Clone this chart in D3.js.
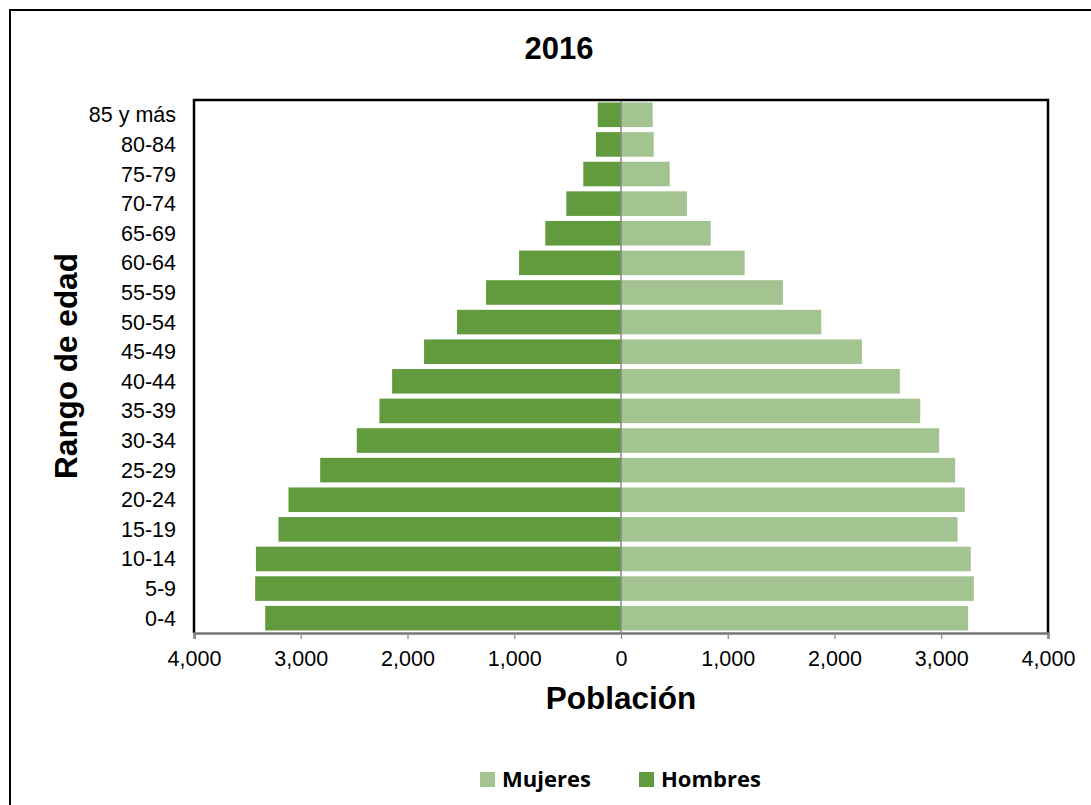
<!DOCTYPE html>
<html><head><meta charset="utf-8">
<script src="https://cdn.jsdelivr.net/npm/d3@7"></script>
<style>body{margin:0;background:#fff}svg{display:block}</style>
</head><body>
<svg id="c" width="1091" height="805"></svg>
<script>
const categories = ["85 y más","80-84","75-79","70-74","65-69","60-64","55-59","50-54","45-49","40-44","35-39","30-34","25-29","20-24","15-19","10-14","5-9","0-4"];
const hombres = [218,234,353,512,709,955,1264,1536,1845,2144,2263,2475,2818,3115,3209,3420,3427,3333];
const mujeres = [297,306,456,618,840,1158,1517,1876,2257,2612,2803,2981,3130,3221,3153,3277,3305,3252];
const xTicks = [-4000,-3000,-2000,-1000,0,1000,2000,3000,4000];

const FF = "'Liberation Sans', Arial, sans-serif";
const svg = d3.select("#c");
const L = 194, R = 1048, T = 100, B = 633;
const x = d3.scaleLinear().domain([-4000,4000]).range([L,R]);
const y = d3.scaleBand().domain(categories).range([T,B]).paddingInner(0.17).paddingOuter(0.085);
const cH = "#629A3E", cM = "#A3C490";

// outer border
svg.append("rect").attr("x",10).attr("y",10).attr("width",1100).attr("height",820)
  .attr("fill","none").attr("stroke","#000").attr("stroke-width",2);

// bars
svg.append("g").selectAll("rect").data(categories).join("rect")
  .attr("x", (d,i)=>x(-hombres[i])).attr("width",(d,i)=>x(0)-x(-hombres[i]))
  .attr("y", d=>y(d)).attr("height", y.bandwidth()).attr("fill", cH);
svg.append("g").selectAll("rect").data(categories).join("rect")
  .attr("x", x(0)).attr("width",(d,i)=>x(mujeres[i])-x(0))
  .attr("y", d=>y(d)).attr("height", y.bandwidth()).attr("fill", cM);

// zero line
svg.append("line").attr("x1",x(0)).attr("x2",x(0)).attr("y1",T).attr("y2",B)
  .attr("stroke","#888").attr("stroke-width",1.5);

// frame (left, top, right)
svg.append("path").attr("d",`M${L},${B}V${T}H${R}V${B}`).attr("fill","none")
  .attr("stroke","#000").attr("stroke-width",2.5);

// x axis
const xa = svg.append("g").attr("transform",`translate(0,${B})`)
  .call(d3.axisBottom(x).tickValues(xTicks).tickSize(6).tickPadding(10)
    .tickFormat(d=>d3.format(",")(Math.abs(d))));
xa.select(".domain").attr("stroke","#777").attr("stroke-width",2.5);
xa.selectAll(".tick line").attr("stroke","#888").attr("stroke-width",1.2);
xa.selectAll("text").attr("font-family",FF).attr("font-size",21.5).attr("fill","#000")
  .attr("y",18).attr("dy","0.71em");

// y labels
svg.append("g").selectAll("text").data(categories).join("text")
  .attr("x",176).attr("y",d=>y(d)+y.bandwidth()/2).attr("dy","0.35em")
  .attr("text-anchor","end").attr("font-family",FF)
  .attr("font-size",21.5).attr("fill","#000").text(d=>d);

// titles
svg.append("text").attr("x",559).attr("y",59).attr("text-anchor","middle")
  .attr("font-family",FF).attr("font-weight","bold")
  .attr("font-size",31).text("2016");
svg.append("text").attr("x",621).attr("y",709).attr("text-anchor","middle")
  .attr("font-family",FF).attr("font-weight","bold")
  .attr("font-size",31.5).text("Población");
svg.append("text").attr("transform","translate(77,366) rotate(-90)").attr("text-anchor","middle")
  .attr("font-family",FF).attr("font-weight","bold")
  .attr("font-size",31.5).text("Rango de edad");

// legend
const leg = [{n:"Mujeres",c:cM,x:480},{n:"Hombres",c:cH,x:639}];
const lg = svg.append("g");
leg.forEach(l=>{
  lg.append("rect").attr("x",l.x).attr("y",772).attr("width",15).attr("height",15).attr("fill",l.c);
  lg.append("text").attr("x",l.x+22).attr("y",787).attr("font-family","'Open Sans', Lato, sans-serif")
    .attr("font-weight","bold").attr("font-size",22).attr("fill","#000").text(l.n);
});
</script>
</body></html>
